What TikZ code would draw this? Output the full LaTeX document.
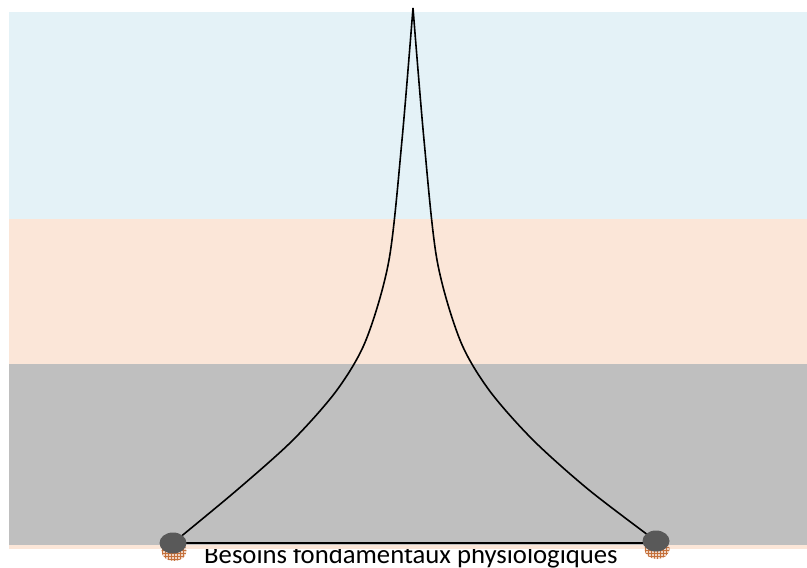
\documentclass[tikz,border=0pt]{standalone}
\usepackage{fontspec}
\setmainfont{Carlito}
\usetikzlibrary{calc,patterns}

\definecolor{skyband}{HTML}{E4F2F7}
\definecolor{peachband}{HTML}{FBE6D8}
\definecolor{greyband}{HTML}{BFBFBF}
\definecolor{footgrey}{HTML}{595959}
\definecolor{footorange}{HTML}{C5703A}

\begin{document}
\begin{tikzpicture}[x=1pt,y=-1pt]
  \useasboundingbox (0,0) rectangle (807,568);
  % label first, the bands hide its top
  \node[anchor=base, font=\fontsize{26.7}{27}\selectfont, inner sep=0] (label)
    at (411,563) {Besoins fondamentaux physiologiques};
  \fill[peachband] (9,545) rectangle (807,549);
  \foreach \top/\bot/\col in {12/219/skyband, 219/364/peachband, 364/545/greyband}
  {
    \fill[\col] (9,\top) rectangle (807,\bot);
  }
  \coordinate (apex) at (413,8);
  \coordinate (lfoot) at (173,543);
  \coordinate (rfoot) at (656,541);
  \draw[black, line width=1.6pt] (lfoot) -- (rfoot|-lfoot);
  \draw[black, line width=1.6pt] plot[smooth] coordinates {
    (lfoot) (237,490) (293,440) (337,390) (366,340) (389,260) (402,140) (apex)};
  \draw[black, line width=1.6pt] plot[smooth] coordinates {
    (rfoot) (589,490) (533,440) (489,390) (460,340) (437,260) (424,140) (apex)};
  \foreach \name in {lfoot, rfoot}
  {
    \fill[footorange!30] ($(\name)+(1,8)$) ellipse[x radius=12.5, y radius=10];
    \fill[pattern=grid, pattern color=footorange] ($(\name)+(1,8)$) ellipse[x radius=12.5, y radius=10];
    \fill[footgrey] (\name) ellipse[x radius=13.5, y radius=10.5];
  }
\end{tikzpicture}
\end{document}
